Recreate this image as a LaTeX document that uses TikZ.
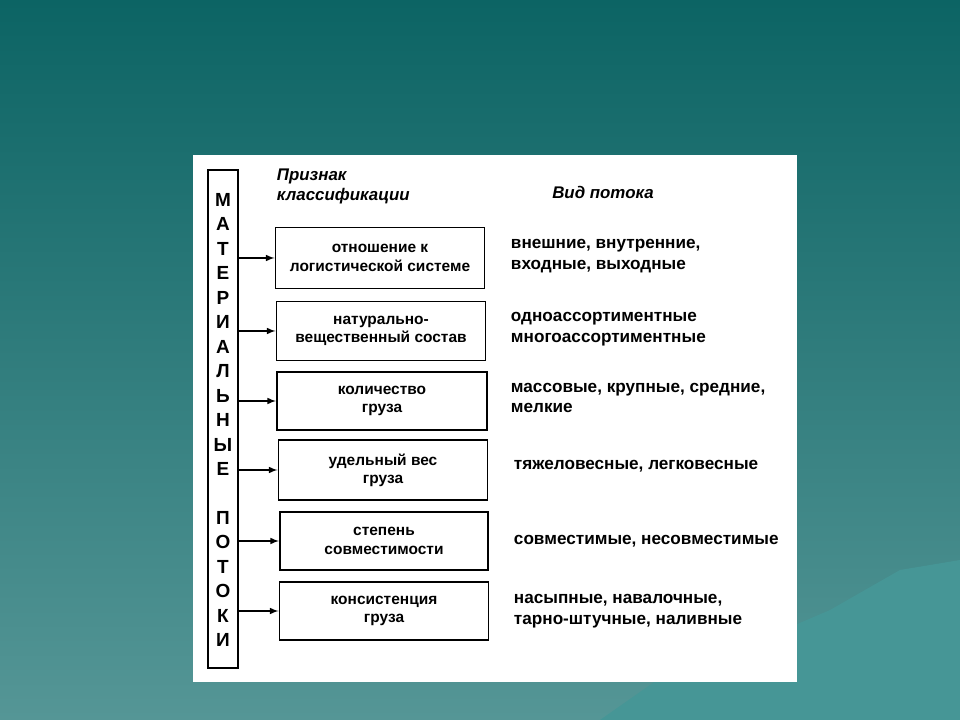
\documentclass[tikz,border=0pt]{standalone}
\usepackage{fontspec}
\setmainfont{Liberation Sans}
\definecolor{bgtop}{RGB}{12,100,100}
\definecolor{bgbot}{RGB}{85,150,150}
\definecolor{hill}{RGB}{70,150,150}
\begin{document}
\begin{tikzpicture}[x=0.025cm,y=-0.025cm]
    \tikzstyle{every node}=[font=\bfseries, text=black]
    \tikzstyle{kind}=[draw=black, line width=1.4pt, inner sep=0pt, align=center, font=\bfseries\fontsize{11}{13}\selectfont]
    \tikzstyle{flow}=[anchor=west, align=left, font=\bfseries\fontsize{12.2}{14.5}\selectfont]
    \tikzstyle{link}=[line width=1.1pt, -latex]

    % background
    \shade[top color=bgtop, bottom color=bgbot] (0,0) rectangle (960,720);
    \fill[hill] (600,720) -- (700,650) -- (760,640) -- (830,610) -- (900,570) -- (960,560) -- (960,720) -- cycle;
    \fill[white] (193,155) rectangle (797,682);

    % vertical title
    \node[draw=black, line width=1.4pt, minimum width=30*0.025cm, minimum height=498*0.025cm] (title) at (223,419) {};
    \foreach \ch [count=\i from 0] in {М,А,Т,Е,Р,И,А,Л,Ь,Н,Ы,Е,{},П,О,Т,О,К,И}
        \node[font=\bfseries\fontsize{13.5}{13.5}\selectfont] at (223,{200+24.45*\i}) {\ch};

    % headers
    \node[anchor=north west, align=left, font=\bfseries\itshape\fontsize{12}{14}\selectfont] (hdra) at (272,164) {Признак\\классификации};
    \node[font=\bfseries\itshape\fontsize{12}{14}\selectfont] (hdrb) at (603,192) {Вид потока};

    % classification boxes
    \node[kind, minimum width=209*0.025cm, minimum height=61*0.025cm] (k1) at (380,258) {отношение к\\логистической системе};
    \node[kind, minimum width=209*0.025cm, minimum height=59*0.025cm] (k2) at (381,331) {натурально-\\вещественный состав};
    \node[kind, minimum width=210*0.025cm, minimum height=58*0.025cm] (k3) at (382,401) {количество\\груза};
    \node[kind, minimum width=209*0.025cm, minimum height=60*0.025cm] (k4) at (383,470) {удельный вес\\груза};
    \node[kind, minimum width=208*0.025cm, minimum height=58*0.025cm] (k5) at (384,541) {степень\\совместимости};
    \node[kind, minimum width=209*0.025cm, minimum height=58*0.025cm] (k6) at (384,611) {консистенция\\груза};

    \foreach \k in {k1,k2,k3,k4,k5,k6}
        \draw[link] (title.east |- \k.west) -- (\k.west);

    % flow kinds
    \node[flow] (f1) at (506,256) {внешние, внутренние,\\входные, выходные};
    \node[flow] (f2) at (506,329) {одноассортиментные\\многоассортиментные};
    \node[flow] (f3) at (506,398) {массовые, крупные, средние,\\мелкие};
    \node[flow] (f4) at (509,466) {тяжеловесные, легковесные};
    \node[flow] (f5) at (509,541) {совместимые, несовместимые};
    \node[flow] (f6) at (509,611) {насыпные, навалочные,\\тарно-штучные, наливные};
\end{tikzpicture}
\end{document}
